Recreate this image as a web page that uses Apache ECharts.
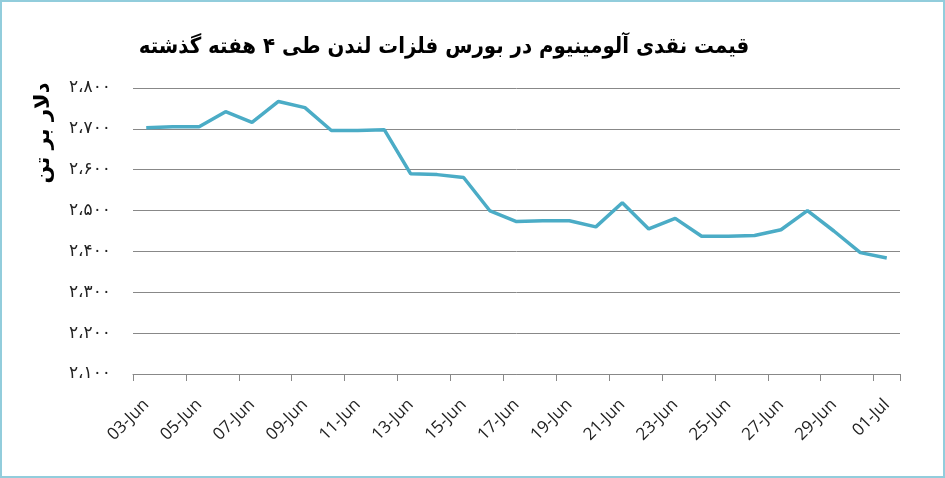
<!DOCTYPE html>
<html>
<head>
<meta charset="utf-8">
<script src="https://cdn.jsdelivr.net/npm/echarts@6/dist/echarts.min.js"></script>
<style>
	html, body { margin: 0; padding: 0; background: #fff; }
	#chart { width: 941px; height: 474px; border: 2px solid #92cddc; }
</style>
</head>
<body>
<div id="chart"></div>
<script>
// روزها از ۳ ژوئن تا ۱ ژوئیه
let days = ['03-Jun', '04-Jun', '05-Jun', '06-Jun', '07-Jun', '08-Jun', '09-Jun', '10-Jun',
	'11-Jun', '12-Jun', '13-Jun', '14-Jun', '15-Jun', '16-Jun', '17-Jun', '18-Jun', '19-Jun',
	'20-Jun', '21-Jun', '22-Jun', '23-Jun', '24-Jun', '25-Jun', '26-Jun', '27-Jun', '28-Jun',
	'29-Jun', '30-Jun', '01-Jul'];
let prices = [2703, 2705, 2705, 2742, 2716, 2767, 2752, 2696, 2696, 2698, 2590, 2588, 2581,
	2499, 2473, 2475, 2475, 2460, 2519, 2455, 2481, 2437, 2437, 2439, 2453, 2500, 2450, 2397, 2384];
let yMin = 2100;
let yMax = 2800;
let yStep = 100;

const faDigits = '۰۱۲۳۴۵۶۷۸۹';
function toFa(v) {
	let s = String(v);
	if (s.length > 3) s = s.slice(0, s.length - 3) + '،' + s.slice(-3);
	return s.replace(/[0-9]/g, d => faDigits[d]);
}

let chart = echarts.init(document.getElementById('chart'));
let option = {
	animation: false,
	title: {
		text: 'قیمت نقدی آلومینیوم در بورس فلزات لندن طی ۴ هفته گذشته',
		left: 437,
		top: 29,
		textAlign: 'center',
		textStyle: {
			fontFamily: 'DejaVu Sans Condensed, DejaVu Sans',
			fontWeight: 'bold',
			fontSize: 22,
			color: '#000'
		}
	},
	graphic: [{
		type: 'text',
		x: 42,
		y: 131,
		rotation: Math.PI / 2,
		style: {
			text: 'دلار بر تن',
			fontFamily: 'DejaVu Sans',
			fontWeight: 'bold',
			fontSize: 21,
			fill: '#000',
			align: 'center',
			verticalAlign: 'middle'
		}
	}],
	grid: {
		left: 131,
		right: 43,
		top: 86,
		bottom: 102
	},
	xAxis: {
		type: 'category',
		data: days,
		boundaryGap: true,
		axisLine: { lineStyle: { color: '#888', width: 1 } },
		axisTick: { show: true, interval: 1, length: 7, lineStyle: { color: '#888' } },
		axisLabel: {
			interval: 1,
			rotate: 45,
			margin: 28,
			fontFamily: 'Open Sans',
			fontSize: 17,
			color: '#222'
		}
	},
	yAxis: {
		type: 'value',
		min: yMin,
		max: yMax,
		interval: yStep,
		axisLine: { show: false },
		axisTick: { show: false },
		splitLine: { lineStyle: { color: '#888', width: 1 } },
		axisLabel: {
			margin: 22,
			fontFamily: 'DejaVu Sans',
			fontSize: 17,
			color: '#222',
			formatter: v => toFa(v)
		}
	},
	series: [{
		type: 'line',
		data: prices,
		symbol: 'none',
		lineStyle: { color: '#4bacc6', width: 3.5 },
		itemStyle: { color: '#4bacc6' }
	}]
};
chart.setOption(option);
</script>
</body>
</html>
